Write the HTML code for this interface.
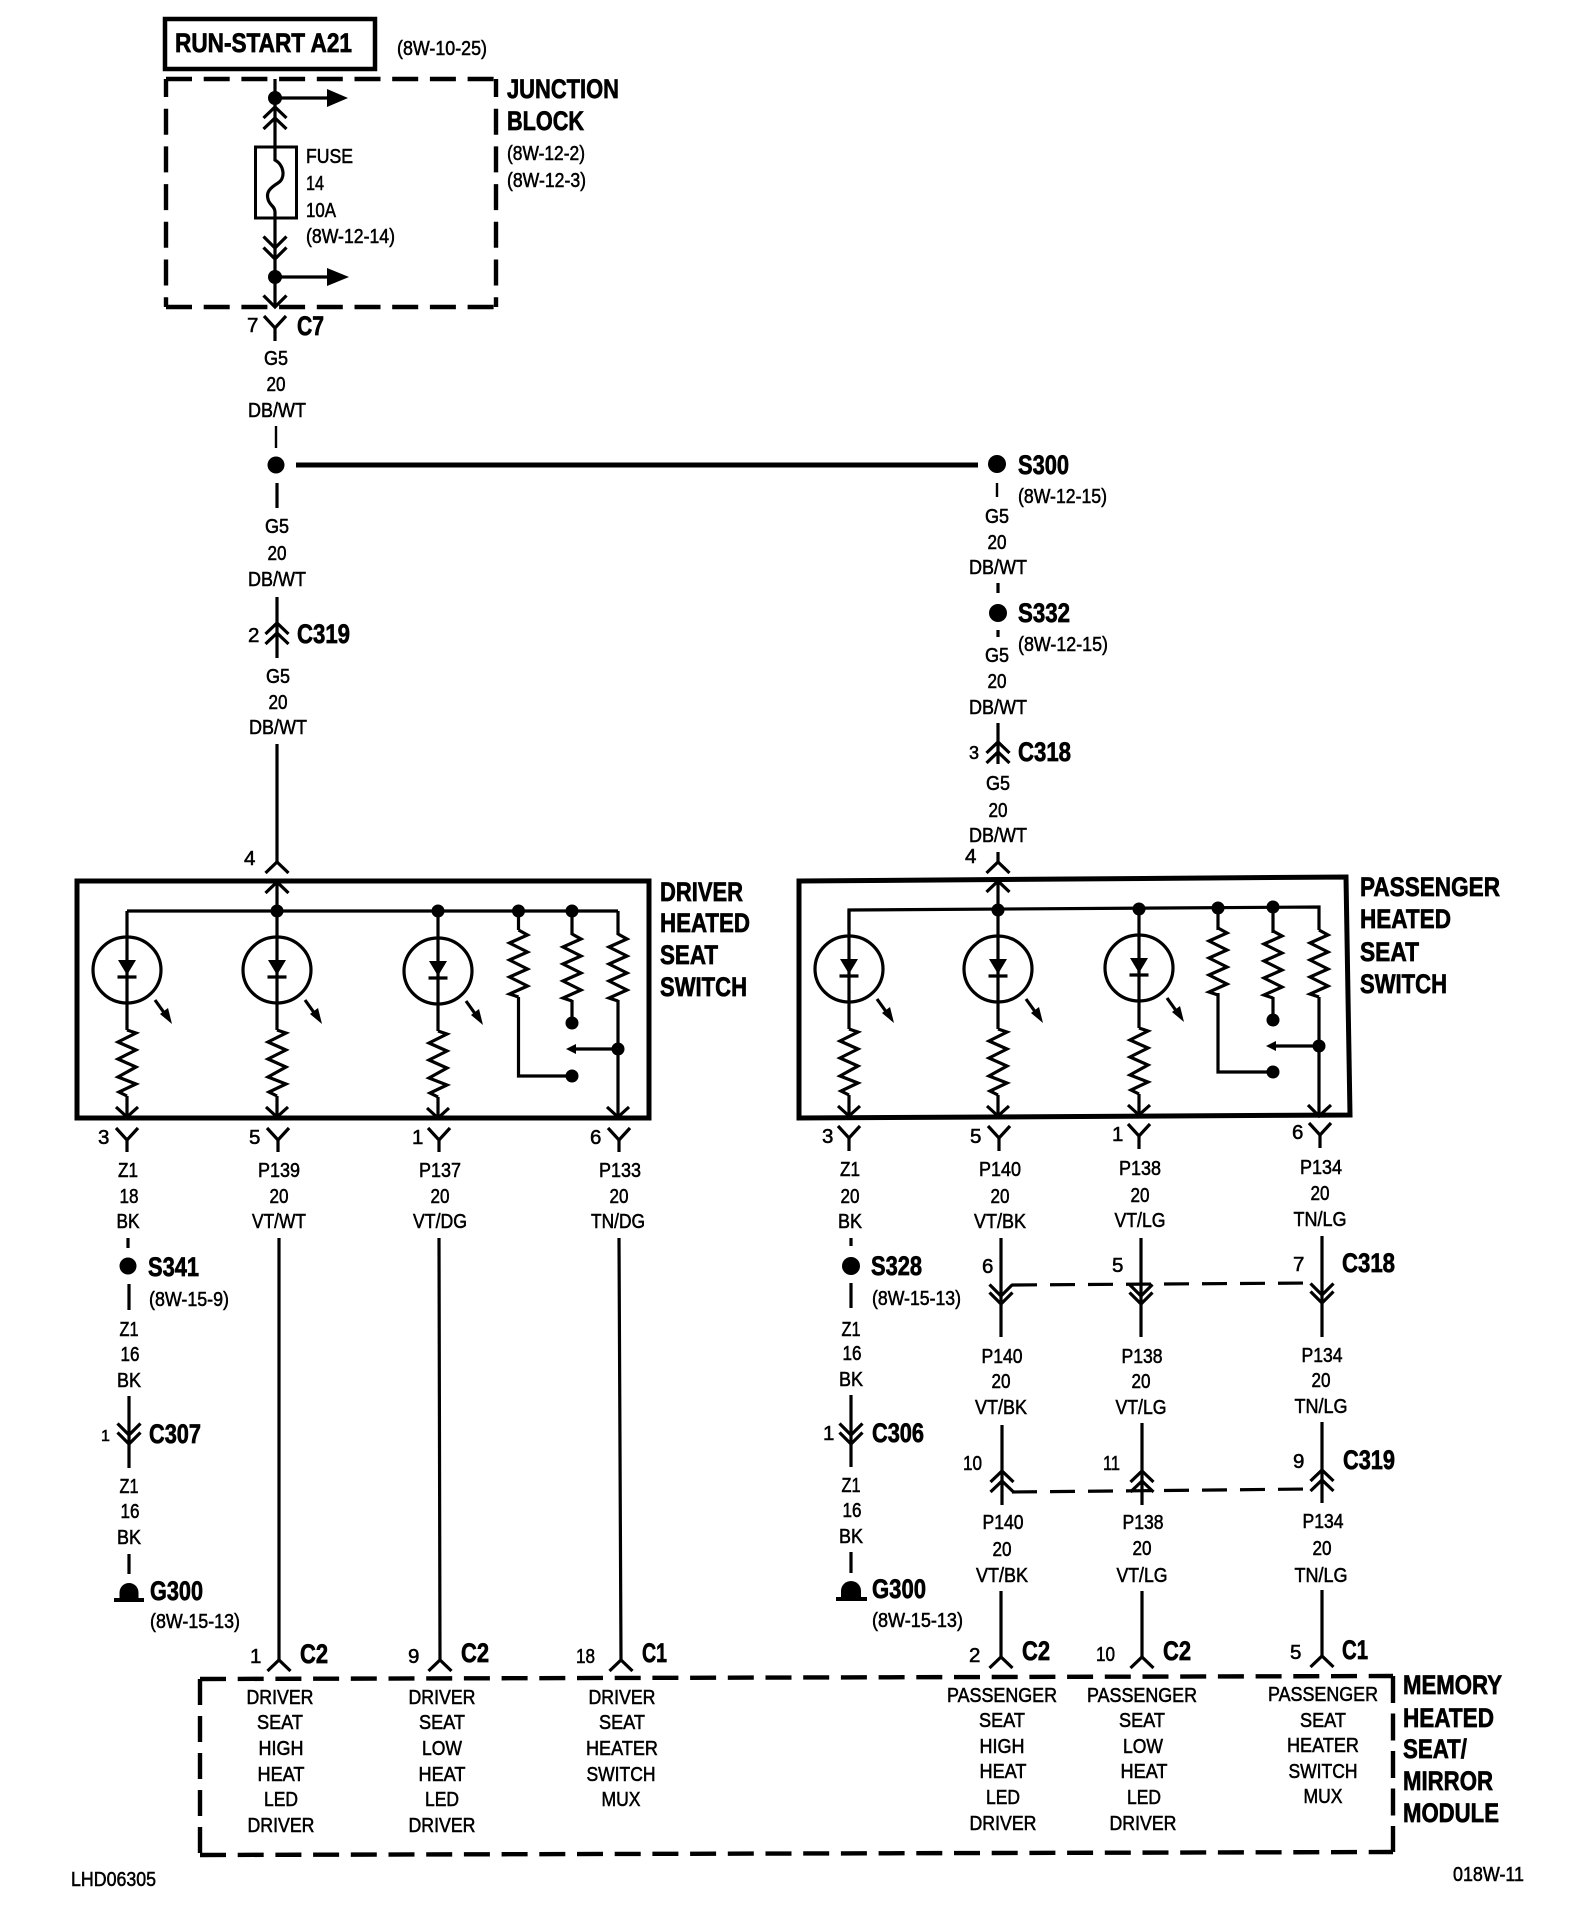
<!DOCTYPE html>
<html><head><meta charset="utf-8"><title>Heated Seat Wiring Diagram</title>
<style>
html,body{margin:0;padding:0;background:#fff}
svg{display:block}
text{font-family:"Liberation Sans",sans-serif;fill:#000;stroke:#000}
.r{font-size:20.5px;stroke-width:.55}
.b{font-size:27px;font-weight:bold;stroke-width:.7}
.c{text-anchor:middle}
.w{fill:none;stroke:#000;stroke-width:3.2}
.d{fill:none;stroke:#000;stroke-width:4.4;stroke-dasharray:26 11.7}
</style></head><body>
<svg xmlns="http://www.w3.org/2000/svg" width="1584" height="1928" viewBox="0 0 1584 1928">
<defs>
<polyline id="y" class="w" points="-11,-12 0,0 11,-12"/>
<polyline id="up" class="w" points="-11.5,11 0,0 11.5,11"/>
<polyline id="dn" class="w" points="-11.5,-11.5 0,0 11.5,-11.5"/>
<polyline id="rz" class="w" points="0,0 9,5 -9,13 9,22 -9,30 9,39 -9,47 9,56 -9,64 0,67"/>
<g id="led">
<ellipse class="w" cx="0" cy="0" rx="34" ry="33"/>
<path class="w" d="M0 -59V60M0 126V147"/>
<polygon points="-9,-10 9,-10 0,5"/>
<path class="w" d="M-9.5 7H9.5"/>
<polyline class="w" points="0,60 9,63 -9,72 9,80 -9,89 9,97 -9,107 9,114 -8,122 0,126"/>
<polyline class="w" points="-11,137 0,147 11,137"/>
<path class="w" d="M28 30L38 44" stroke-width="2.5"/>
<polygon points="45,54 41,38 33,44"/>
</g>
</defs>

<!-- top: run-start -->
<rect x="165" y="19" width="210" height="50" fill="none" stroke="#000" stroke-width="4.5"/>
<text class="b" x="175" y="52" textLength="177" lengthAdjust="spacingAndGlyphs">RUN-START A21</text>
<text class="r" x="397" y="55" textLength="90" lengthAdjust="spacingAndGlyphs">(8W-10-25)</text>

<!-- junction block -->
<path class="d" d="M166 79H496"/>
<path class="d" d="M166 307H496"/>
<path class="d" style="stroke-dashoffset:8" d="M166 79V307"/>
<path class="d" style="stroke-dashoffset:8" d="M496 79V307"/>
<path class="w" d="M275 79V147"/>
<circle cx="275" cy="98" r="7"/>
<path class="w" d="M275 98H328"/><polygon points="327,89 348,98 327,107"/>
<use href="#up" x="275" y="107"/><use href="#up" x="275" y="118"/>
<rect x="255.500" y="147" width="41" height="71" fill="none" stroke="#000" stroke-width="3"/>
<path class="w" d="M275 147V160C284 165 286 178 278 183C270 188 266 192 268 199C269 205 275 206 275 212V305"/>
<use href="#dn" x="275" y="248"/><use href="#dn" x="275" y="259"/>
<circle cx="275" cy="277" r="7"/>
<path class="w" d="M275 277H328"/><polygon points="327,268 349,277 327,286"/>
<use href="#dn" x="275" y="307"/>
<text class="r" x="306" y="163" textLength="47" lengthAdjust="spacingAndGlyphs">FUSE</text>
<text class="r" x="306" y="190" textLength="18" lengthAdjust="spacingAndGlyphs">14</text>
<text class="r" x="306" y="217" textLength="30" lengthAdjust="spacingAndGlyphs">10A</text>
<text class="r" x="306" y="243" textLength="89" lengthAdjust="spacingAndGlyphs">(8W-12-14)</text>
<text class="b" x="507" y="98" textLength="112" lengthAdjust="spacingAndGlyphs">JUNCTION</text>
<text class="b" x="507" y="130" textLength="77" lengthAdjust="spacingAndGlyphs">BLOCK</text>
<text class="r" x="507" y="160" textLength="78" lengthAdjust="spacingAndGlyphs">(8W-12-2)</text>
<text class="r" x="507" y="187" textLength="79" lengthAdjust="spacingAndGlyphs">(8W-12-3)</text>

<!-- C7 -->
<use href="#y" x="275" y="328"/><path class="w" d="M275 328V341"/>
<text class="r" x="247" y="332">7</text>
<text class="b" x="297" y="335" textLength="27" lengthAdjust="spacingAndGlyphs">C7</text>
<text class="r c" x="276" y="365" textLength="24" lengthAdjust="spacingAndGlyphs">G5</text>
<text class="r c" x="276" y="391" textLength="19" lengthAdjust="spacingAndGlyphs">20</text>
<text class="r c" x="277" y="417" textLength="58" lengthAdjust="spacingAndGlyphs">DB/WT</text>
<path d="M276 426V448" fill="none" stroke="#000" stroke-width="2.4"/>
<circle cx="276" cy="465" r="8.500"/>
<path d="M296 465H978" stroke="#000" stroke-width="5"/>
<path class="w" d="M277 483V508"/>
<text class="r c" x="277" y="533" textLength="24" lengthAdjust="spacingAndGlyphs">G5</text>
<text class="r c" x="277" y="560" textLength="19" lengthAdjust="spacingAndGlyphs">20</text>
<text class="r c" x="277" y="586" textLength="58" lengthAdjust="spacingAndGlyphs">DB/WT</text>
<path class="w" d="M277 597V658"/>
<use href="#up" x="277" y="623"/><use href="#up" x="277" y="633"/>
<text class="r" x="248" y="642">2</text>
<text class="b" x="297" y="643" textLength="53" lengthAdjust="spacingAndGlyphs">C319</text>
<text class="r c" x="278" y="683" textLength="24" lengthAdjust="spacingAndGlyphs">G5</text>
<text class="r c" x="278" y="709" textLength="19" lengthAdjust="spacingAndGlyphs">20</text>
<text class="r c" x="278" y="734" textLength="58" lengthAdjust="spacingAndGlyphs">DB/WT</text>
<path class="w" d="M277 744V862"/><use href="#up" x="277" y="862"/>
<text class="r" x="244" y="865">4</text>

<!-- right spur -->
<circle cx="997" cy="464" r="9"/>
<text class="b" x="1018" y="474" textLength="51" lengthAdjust="spacingAndGlyphs">S300</text>
<text class="r" x="1018" y="503" textLength="89" lengthAdjust="spacingAndGlyphs">(8W-12-15)</text>
<path d="M997 483V497" fill="none" stroke="#000" stroke-width="2.4"/>
<text class="r c" x="997" y="523" textLength="24" lengthAdjust="spacingAndGlyphs">G5</text>
<text class="r c" x="997" y="549" textLength="19" lengthAdjust="spacingAndGlyphs">20</text>
<text class="r c" x="998" y="574" textLength="58" lengthAdjust="spacingAndGlyphs">DB/WT</text>
<path class="w" d="M998 583V593"/>
<circle cx="998" cy="613" r="9"/>
<text class="b" x="1018" y="622" textLength="52" lengthAdjust="spacingAndGlyphs">S332</text>
<text class="r" x="1018" y="651" textLength="90" lengthAdjust="spacingAndGlyphs">(8W-12-15)</text>
<path class="w" d="M998 630V637"/>
<text class="r c" x="997" y="662" textLength="24" lengthAdjust="spacingAndGlyphs">G5</text>
<text class="r c" x="997" y="688" textLength="19" lengthAdjust="spacingAndGlyphs">20</text>
<text class="r c" x="998" y="714" textLength="58" lengthAdjust="spacingAndGlyphs">DB/WT</text>
<path class="w" d="M998 723V764"/>
<use href="#up" x="998" y="742"/><use href="#up" x="998" y="752"/>
<text class="r" x="969" y="759" style="font-size:18px">3</text>
<text class="b" x="1018" y="761" textLength="53" lengthAdjust="spacingAndGlyphs">C318</text>
<text class="r c" x="998" y="790" textLength="24" lengthAdjust="spacingAndGlyphs">G5</text>
<text class="r c" x="998" y="817" textLength="19" lengthAdjust="spacingAndGlyphs">20</text>
<text class="r c" x="998" y="842" textLength="58" lengthAdjust="spacingAndGlyphs">DB/WT</text>
<path class="w" d="M998 852V862"/><use href="#up" x="998" y="862"/>
<text class="r" x="965" y="863">4</text>

<!-- driver switch -->
<rect x="77" y="881" width="572" height="237" fill="none" stroke="#000" stroke-width="5"/>
<path class="w" d="M618 911H127M277 882V911"/>
<use href="#up" x="277" y="882"/>
<circle cx="277" cy="911" r="6.500"/><circle cx="438" cy="911" r="6.500"/><circle cx="518.500" cy="911" r="6.500"/><circle cx="572" cy="911" r="6.500"/>
<use href="#led" x="127" y="970"/><use href="#led" x="277" y="970"/><use href="#led" x="438" y="971"/>
<path class="w" d="M518.500 911V930M518.500 997V1076H572M572 911V935M572 1000V1023M618 911V935M618 1000V1117"/>
<use href="#rz" x="518.500" y="930"/><use href="#rz" x="572" y="934"/><use href="#rz" x="618" y="934"/>
<circle cx="572" cy="1023" r="6.500"/><circle cx="572" cy="1076" r="6.500"/><circle cx="618" cy="1049" r="6.500"/>
<path class="w" d="M618 1049H573"/><polygon points="566,1049 576,1044 576,1054"/>
<polyline class="w" points="607,1107 618,1117 629,1107"/>
<text class="b" x="660" y="901" textLength="83" lengthAdjust="spacingAndGlyphs">DRIVER</text>
<text class="b" x="660" y="932" textLength="90" lengthAdjust="spacingAndGlyphs">HEATED</text>
<text class="b" x="660" y="964" textLength="58" lengthAdjust="spacingAndGlyphs">SEAT</text>
<text class="b" x="660" y="996" textLength="87" lengthAdjust="spacingAndGlyphs">SWITCH</text>

<!-- driver pins -->
<use href="#y" x="127" y="1140"/><use href="#y" x="278" y="1140"/><use href="#y" x="439" y="1140"/><use href="#y" x="619" y="1140"/>
<path class="w" d="M127 1140V1152M278 1140V1152M439 1140V1152M619 1140V1152"/>
<text class="r" x="98" y="1144">3</text><text class="r" x="249" y="1144">5</text><text class="r" x="412" y="1144">1</text><text class="r" x="590" y="1144">6</text>
<text class="r c" x="128" y="1177" textLength="20" lengthAdjust="spacingAndGlyphs">Z1</text>
<text class="r c" x="129" y="1203" textLength="19" lengthAdjust="spacingAndGlyphs">18</text>
<text class="r c" x="128" y="1228" textLength="23" lengthAdjust="spacingAndGlyphs">BK</text>
<text class="r c" x="279" y="1177" textLength="42" lengthAdjust="spacingAndGlyphs">P139</text>
<text class="r c" x="279" y="1203" textLength="19" lengthAdjust="spacingAndGlyphs">20</text>
<text class="r c" x="279" y="1228" textLength="54" lengthAdjust="spacingAndGlyphs">VT/WT</text>
<text class="r c" x="440" y="1177" textLength="42" lengthAdjust="spacingAndGlyphs">P137</text>
<text class="r c" x="440" y="1203" textLength="19" lengthAdjust="spacingAndGlyphs">20</text>
<text class="r c" x="440" y="1228" textLength="54" lengthAdjust="spacingAndGlyphs">VT/DG</text>
<text class="r c" x="620" y="1177" textLength="42" lengthAdjust="spacingAndGlyphs">P133</text>
<text class="r c" x="619" y="1203" textLength="19" lengthAdjust="spacingAndGlyphs">20</text>
<text class="r c" x="618" y="1228" textLength="54" lengthAdjust="spacingAndGlyphs">TN/DG</text>

<!-- driver ground branch -->
<path class="w" d="M128 1238V1248"/>
<circle cx="128" cy="1266" r="8.500"/>
<text class="b" x="148" y="1276" textLength="51" lengthAdjust="spacingAndGlyphs">S341</text>
<text class="r" x="149" y="1306" textLength="80" lengthAdjust="spacingAndGlyphs">(8W-15-9)</text>
<path class="w" d="M129 1284V1310"/>
<text class="r c" x="129" y="1336" textLength="19" lengthAdjust="spacingAndGlyphs">Z1</text>
<text class="r c" x="130" y="1361" textLength="19" lengthAdjust="spacingAndGlyphs">16</text>
<text class="r c" x="129" y="1387" textLength="24" lengthAdjust="spacingAndGlyphs">BK</text>
<path class="w" d="M129 1396V1468"/>
<use href="#dn" x="129" y="1435"/><use href="#dn" x="129" y="1444"/>
<text class="r" x="101" y="1441" style="font-size:16px">1</text>
<text class="b" x="149" y="1443" textLength="52" lengthAdjust="spacingAndGlyphs">C307</text>
<text class="r c" x="129" y="1493" textLength="19" lengthAdjust="spacingAndGlyphs">Z1</text>
<text class="r c" x="130" y="1518" textLength="19" lengthAdjust="spacingAndGlyphs">16</text>
<text class="r c" x="129" y="1544" textLength="24" lengthAdjust="spacingAndGlyphs">BK</text>
<path class="w" d="M129 1554V1574"/>
<path d="M119.500 1600V1592.500A9.500 9.500 0 0 1 138.500 1592.500V1600Z"/>
<path d="M114 1600H144" stroke="#000" stroke-width="4"/>
<text class="b" x="150" y="1600" textLength="53" lengthAdjust="spacingAndGlyphs">G300</text>
<text class="r" x="150" y="1628" textLength="90" lengthAdjust="spacingAndGlyphs">(8W-15-13)</text>

<!-- driver long wires -->
<path class="w" d="M279 1238V1661M439 1238L440 1660M619 1238L621 1660"/>
<use href="#up" x="279" y="1660"/><use href="#up" x="440" y="1660"/><use href="#up" x="621" y="1660"/>
<text class="r" x="250" y="1663">1</text>
<text class="b" x="300" y="1663" textLength="28" lengthAdjust="spacingAndGlyphs">C2</text>
<text class="r" x="408" y="1663">9</text>
<text class="b" x="461" y="1662" textLength="28" lengthAdjust="spacingAndGlyphs">C2</text>
<text class="r" x="576" y="1663" textLength="19" lengthAdjust="spacingAndGlyphs">18</text>
<text class="b" x="642" y="1662" textLength="25" lengthAdjust="spacingAndGlyphs">C1</text>

<!-- passenger switch -->
<polygon points="799,881 1346,877 1350,1115 799,1118" fill="none" stroke="#000" stroke-width="5"/>
<path class="w" d="M849 930V910L1319 907V930M1319 997V1116M998 882V910"/>
<use href="#up" x="998" y="881"/>
<circle cx="998" cy="910" r="6.500"/><circle cx="1139" cy="909" r="6.500"/><circle cx="1218" cy="908" r="6.500"/><circle cx="1273" cy="907" r="6.500"/>
<use href="#led" x="849" y="969"/><use href="#led" x="998" y="969"/><use href="#led" x="1139" y="968"/>
<path class="w" d="M1218 908V930M1218 993V1072H1273M1273 907V933M1273 997V1020"/>
<use href="#rz" x="1218" y="928"/><use href="#rz" x="1273" y="931"/><use href="#rz" x="1319" y="930"/>
<circle cx="1273" cy="1020" r="6.500"/><circle cx="1273" cy="1072" r="6.500"/><circle cx="1319" cy="1046" r="6.500"/>
<path class="w" d="M1319 1046H1273"/><polygon points="1266,1046 1276,1041 1276,1051"/>
<polyline class="w" points="1308,1105 1319,1116 1331,1105"/>
<text class="b" x="1360" y="896" textLength="140" lengthAdjust="spacingAndGlyphs">PASSENGER</text>
<text class="b" x="1360" y="928" textLength="91" lengthAdjust="spacingAndGlyphs">HEATED</text>
<text class="b" x="1360" y="961" textLength="59" lengthAdjust="spacingAndGlyphs">SEAT</text>
<text class="b" x="1360" y="993" textLength="87" lengthAdjust="spacingAndGlyphs">SWITCH</text>

<!-- passenger pins -->
<use href="#y" x="849" y="1138"/><use href="#y" x="999" y="1138"/><use href="#y" x="1139" y="1136"/><use href="#y" x="1320" y="1135"/>
<path class="w" d="M849 1138V1151M999 1138V1151M1139 1136V1149M1320 1135V1148"/>
<text class="r" x="822" y="1143">3</text><text class="r" x="970" y="1143">5</text><text class="r" x="1112" y="1141">1</text><text class="r" x="1292" y="1139">6</text>
<text class="r c" x="850" y="1176" textLength="20" lengthAdjust="spacingAndGlyphs">Z1</text>
<text class="r c" x="850" y="1203" textLength="19" lengthAdjust="spacingAndGlyphs">20</text>
<text class="r c" x="850" y="1228" textLength="24" lengthAdjust="spacingAndGlyphs">BK</text>
<text class="r c" x="1000" y="1176" textLength="42" lengthAdjust="spacingAndGlyphs">P140</text>
<text class="r c" x="1000" y="1203" textLength="19" lengthAdjust="spacingAndGlyphs">20</text>
<text class="r c" x="1000" y="1228" textLength="52" lengthAdjust="spacingAndGlyphs">VT/BK</text>
<text class="r c" x="1140" y="1175" textLength="42" lengthAdjust="spacingAndGlyphs">P138</text>
<text class="r c" x="1140" y="1202" textLength="19" lengthAdjust="spacingAndGlyphs">20</text>
<text class="r c" x="1140" y="1227" textLength="51" lengthAdjust="spacingAndGlyphs">VT/LG</text>
<text class="r c" x="1321" y="1174" textLength="42" lengthAdjust="spacingAndGlyphs">P134</text>
<text class="r c" x="1320" y="1200" textLength="19" lengthAdjust="spacingAndGlyphs">20</text>
<text class="r c" x="1320" y="1226" textLength="53" lengthAdjust="spacingAndGlyphs">TN/LG</text>

<!-- passenger ground branch -->
<path class="w" d="M851 1238V1246"/>
<circle cx="851" cy="1266" r="9"/>
<text class="b" x="871" y="1275" textLength="51" lengthAdjust="spacingAndGlyphs">S328</text>
<text class="r" x="872" y="1305" textLength="89" lengthAdjust="spacingAndGlyphs">(8W-15-13)</text>
<path class="w" d="M851 1283V1308"/>
<text class="r c" x="851" y="1336" textLength="19" lengthAdjust="spacingAndGlyphs">Z1</text>
<text class="r c" x="852" y="1360" textLength="19" lengthAdjust="spacingAndGlyphs">16</text>
<text class="r c" x="851" y="1386" textLength="24" lengthAdjust="spacingAndGlyphs">BK</text>
<path class="w" d="M851 1395V1467"/>
<use href="#dn" x="851" y="1435"/><use href="#dn" x="851" y="1444"/>
<text class="r" x="823" y="1440">1</text>
<text class="b" x="872" y="1442" textLength="52" lengthAdjust="spacingAndGlyphs">C306</text>
<text class="r c" x="851" y="1492" textLength="19" lengthAdjust="spacingAndGlyphs">Z1</text>
<text class="r c" x="852" y="1517" textLength="19" lengthAdjust="spacingAndGlyphs">16</text>
<text class="r c" x="851" y="1543" textLength="24" lengthAdjust="spacingAndGlyphs">BK</text>
<path class="w" d="M851 1552V1573"/>
<path d="M841 1599V1591A10 10 0 0 1 861 1591V1599Z"/>
<path d="M836 1599H867" stroke="#000" stroke-width="4"/>
<text class="b" x="872" y="1598" textLength="54" lengthAdjust="spacingAndGlyphs">G300</text>
<text class="r" x="872" y="1627" textLength="91" lengthAdjust="spacingAndGlyphs">(8W-15-13)</text>

<!-- passenger mid connectors C318 -->
<path class="w" d="M1001 1238V1337M1141 1238V1337M1322 1236V1337"/>
<use href="#dn" x="1001" y="1296"/><use href="#dn" x="1001" y="1304"/>
<use href="#dn" x="1141" y="1296"/><use href="#dn" x="1141" y="1304"/>
<use href="#dn" x="1322" y="1295"/><use href="#dn" x="1322" y="1303"/>
<path d="M1012 1285L1311 1283" fill="none" stroke="#000" stroke-width="3.2" stroke-dasharray="25 13"/>
<text class="r" x="982" y="1273">6</text><text class="r" x="1112" y="1272">5</text><text class="r" x="1293" y="1271">7</text>
<text class="b" x="1342" y="1272" textLength="53" lengthAdjust="spacingAndGlyphs">C318</text>
<text class="r c" x="1002" y="1363" textLength="41" lengthAdjust="spacingAndGlyphs">P140</text>
<text class="r c" x="1001" y="1388" textLength="19" lengthAdjust="spacingAndGlyphs">20</text>
<text class="r c" x="1001" y="1414" textLength="52" lengthAdjust="spacingAndGlyphs">VT/BK</text>
<text class="r c" x="1142" y="1363" textLength="41" lengthAdjust="spacingAndGlyphs">P138</text>
<text class="r c" x="1141" y="1388" textLength="19" lengthAdjust="spacingAndGlyphs">20</text>
<text class="r c" x="1141" y="1414" textLength="51" lengthAdjust="spacingAndGlyphs">VT/LG</text>
<text class="r c" x="1322" y="1362" textLength="41" lengthAdjust="spacingAndGlyphs">P134</text>
<text class="r c" x="1321" y="1387" textLength="19" lengthAdjust="spacingAndGlyphs">20</text>
<text class="r c" x="1321" y="1413" textLength="53" lengthAdjust="spacingAndGlyphs">TN/LG</text>

<!-- C319 row -->
<path class="w" d="M1002 1425V1505M1142 1423V1505M1322 1422V1503"/>
<use href="#up" x="1002" y="1471"/><use href="#up" x="1002" y="1481"/>
<use href="#up" x="1142" y="1471"/><use href="#up" x="1142" y="1481"/>
<use href="#up" x="1322" y="1470"/><use href="#up" x="1322" y="1480"/>
<path d="M1012 1492L1311 1489" fill="none" stroke="#000" stroke-width="3.2" stroke-dasharray="25 13"/>
<text class="r" x="963" y="1470" textLength="19" lengthAdjust="spacingAndGlyphs">10</text>
<text class="r" x="1103" y="1470" textLength="17" lengthAdjust="spacingAndGlyphs">11</text>
<text class="r" x="1293" y="1468">9</text>
<text class="b" x="1343" y="1469" textLength="52" lengthAdjust="spacingAndGlyphs">C319</text>
<text class="r c" x="1003" y="1529" textLength="41" lengthAdjust="spacingAndGlyphs">P140</text>
<text class="r c" x="1002" y="1556" textLength="19" lengthAdjust="spacingAndGlyphs">20</text>
<text class="r c" x="1002" y="1582" textLength="52" lengthAdjust="spacingAndGlyphs">VT/BK</text>
<text class="r c" x="1143" y="1529" textLength="41" lengthAdjust="spacingAndGlyphs">P138</text>
<text class="r c" x="1142" y="1555" textLength="19" lengthAdjust="spacingAndGlyphs">20</text>
<text class="r c" x="1142" y="1582" textLength="51" lengthAdjust="spacingAndGlyphs">VT/LG</text>
<text class="r c" x="1323" y="1528" textLength="41" lengthAdjust="spacingAndGlyphs">P134</text>
<text class="r c" x="1322" y="1555" textLength="19" lengthAdjust="spacingAndGlyphs">20</text>
<text class="r c" x="1321" y="1582" textLength="53" lengthAdjust="spacingAndGlyphs">TN/LG</text>

<!-- to module -->
<path class="w" d="M1001 1591V1657M1142 1591V1657M1322 1590V1656"/>
<use href="#up" x="1001" y="1657"/><use href="#up" x="1142" y="1657"/><use href="#up" x="1322" y="1656"/>
<text class="r" x="969" y="1662">2</text>
<text class="b" x="1022" y="1660" textLength="28" lengthAdjust="spacingAndGlyphs">C2</text>
<text class="r" x="1096" y="1661" textLength="19" lengthAdjust="spacingAndGlyphs">10</text>
<text class="b" x="1163" y="1660" textLength="28" lengthAdjust="spacingAndGlyphs">C2</text>
<text class="r" x="1290" y="1659">5</text>
<text class="b" x="1342" y="1659" textLength="26" lengthAdjust="spacingAndGlyphs">C1</text>

<!-- module -->
<path class="d" d="M200 1679L1393 1676"/>
<path class="d" d="M200 1855L1393 1852"/>
<path class="d" style="stroke-dasharray:26 11" d="M200 1679V1855"/>
<path class="d" style="stroke-dasharray:27 10.500" d="M1393 1676V1852"/>
<text class="r c" x="280" y="1704" textLength="67" lengthAdjust="spacingAndGlyphs">DRIVER</text>
<text class="r c" x="280" y="1729" textLength="46" lengthAdjust="spacingAndGlyphs">SEAT</text>
<text class="r c" x="281" y="1755" textLength="45" lengthAdjust="spacingAndGlyphs">HIGH</text>
<text class="r c" x="281" y="1781" textLength="47" lengthAdjust="spacingAndGlyphs">HEAT</text>
<text class="r c" x="281" y="1806" textLength="34" lengthAdjust="spacingAndGlyphs">LED</text>
<text class="r c" x="281" y="1832" textLength="67" lengthAdjust="spacingAndGlyphs">DRIVER</text>
<text class="r c" x="442" y="1704" textLength="67" lengthAdjust="spacingAndGlyphs">DRIVER</text>
<text class="r c" x="442" y="1729" textLength="46" lengthAdjust="spacingAndGlyphs">SEAT</text>
<text class="r c" x="442" y="1755" textLength="40" lengthAdjust="spacingAndGlyphs">LOW</text>
<text class="r c" x="442" y="1781" textLength="47" lengthAdjust="spacingAndGlyphs">HEAT</text>
<text class="r c" x="442" y="1806" textLength="34" lengthAdjust="spacingAndGlyphs">LED</text>
<text class="r c" x="442" y="1832" textLength="67" lengthAdjust="spacingAndGlyphs">DRIVER</text>
<text class="r c" x="622" y="1704" textLength="67" lengthAdjust="spacingAndGlyphs">DRIVER</text>
<text class="r c" x="622" y="1729" textLength="46" lengthAdjust="spacingAndGlyphs">SEAT</text>
<text class="r c" x="622" y="1755" textLength="72" lengthAdjust="spacingAndGlyphs">HEATER</text>
<text class="r c" x="621" y="1781" textLength="69" lengthAdjust="spacingAndGlyphs">SWITCH</text>
<text class="r c" x="621" y="1806" textLength="39" lengthAdjust="spacingAndGlyphs">MUX</text>
<text class="r c" x="1002" y="1702" textLength="110" lengthAdjust="spacingAndGlyphs">PASSENGER</text>
<text class="r c" x="1002" y="1727" textLength="46" lengthAdjust="spacingAndGlyphs">SEAT</text>
<text class="r c" x="1002" y="1753" textLength="45" lengthAdjust="spacingAndGlyphs">HIGH</text>
<text class="r c" x="1003" y="1778" textLength="47" lengthAdjust="spacingAndGlyphs">HEAT</text>
<text class="r c" x="1003" y="1804" textLength="34" lengthAdjust="spacingAndGlyphs">LED</text>
<text class="r c" x="1003" y="1830" textLength="67" lengthAdjust="spacingAndGlyphs">DRIVER</text>
<text class="r c" x="1142" y="1702" textLength="110" lengthAdjust="spacingAndGlyphs">PASSENGER</text>
<text class="r c" x="1142" y="1727" textLength="46" lengthAdjust="spacingAndGlyphs">SEAT</text>
<text class="r c" x="1143" y="1753" textLength="40" lengthAdjust="spacingAndGlyphs">LOW</text>
<text class="r c" x="1144" y="1778" textLength="47" lengthAdjust="spacingAndGlyphs">HEAT</text>
<text class="r c" x="1144" y="1804" textLength="34" lengthAdjust="spacingAndGlyphs">LED</text>
<text class="r c" x="1143" y="1830" textLength="67" lengthAdjust="spacingAndGlyphs">DRIVER</text>
<text class="r c" x="1323" y="1701" textLength="110" lengthAdjust="spacingAndGlyphs">PASSENGER</text>
<text class="r c" x="1323" y="1727" textLength="46" lengthAdjust="spacingAndGlyphs">SEAT</text>
<text class="r c" x="1323" y="1752" textLength="72" lengthAdjust="spacingAndGlyphs">HEATER</text>
<text class="r c" x="1323" y="1778" textLength="69" lengthAdjust="spacingAndGlyphs">SWITCH</text>
<text class="r c" x="1323" y="1803" textLength="39" lengthAdjust="spacingAndGlyphs">MUX</text>
<text class="b" x="1403" y="1694" textLength="99" lengthAdjust="spacingAndGlyphs">MEMORY</text>
<text class="b" x="1403" y="1727" textLength="91" lengthAdjust="spacingAndGlyphs">HEATED</text>
<text class="b" x="1403" y="1758" textLength="64" lengthAdjust="spacingAndGlyphs">SEAT/</text>
<text class="b" x="1403" y="1790" textLength="90" lengthAdjust="spacingAndGlyphs">MIRROR</text>
<text class="b" x="1403" y="1822" textLength="96" lengthAdjust="spacingAndGlyphs">MODULE</text>

<text class="r" x="71" y="1886" textLength="85" lengthAdjust="spacingAndGlyphs">LHD06305</text>
<text class="r" x="1453" y="1881" textLength="71" lengthAdjust="spacingAndGlyphs">018W-11</text>
</svg>
</body></html>
